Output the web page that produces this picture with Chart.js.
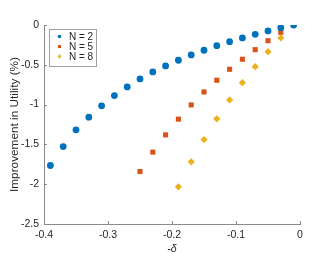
<!DOCTYPE html>
<html lang="en">
<head>
    <meta charset="UTF-8">
    <title>Improvement in Utility</title>
    <script src="https://cdn.jsdelivr.net/npm/chart.js"></script>
    <style>
        body { margin: 0; background: #fff; }
        #wrap { width: 332px; height: 262px; }
    </style>
</head>
<body>
    <div id="wrap"><canvas id="myChart" width="332" height="262"></canvas></div>
    <script>
        // -delta values and utility improvement (%) per number of agents
        const deltaN2 = [-0.39, -0.37, -0.35, -0.33, -0.31, -0.29, -0.27, -0.25, -0.23, -0.21,
                         -0.19, -0.17, -0.15, -0.13, -0.11, -0.09, -0.07, -0.05, -0.03, -0.01];
        const utilN2 = [-1.765, -1.527, -1.317, -1.158, -1.016, -0.887, -0.778, -0.678, -0.590, -0.514,
                        -0.443, -0.376, -0.317, -0.260, -0.210, -0.163, -0.117, -0.075, -0.034, 0];

        const deltaN5 = [-0.25, -0.23, -0.21, -0.19, -0.17, -0.15, -0.13, -0.11, -0.09, -0.07, -0.05, -0.03, -0.01];
        const utilN5 = [-1.841, -1.597, -1.380, -1.183, -1.004, -0.841, -0.694, -0.556, -0.430, -0.310, -0.197, -0.092, 0];

        const deltaN8 = [-0.19, -0.17, -0.15, -0.13, -0.11, -0.09, -0.07, -0.05, -0.03, -0.01];
        const utilN8 = [-2.033, -1.719, -1.439, -1.179, -0.941, -0.724, -0.523, -0.335, -0.163, 0];

        const seriesLabels = ['N = 2', 'N = 5', 'N = 8'];
        const xTicks = [-0.4, -0.3, -0.2, -0.1, 0];
        const yTicks = [-2.5, -2, -1.5, -1, -0.5, 0];

        const FONT = 'Liberation Sans, Arial, sans-serif';
        const TEXT = '#262626';
        const AXIS = '#8a8a8a';

        function toPoints(xs, ys) {
            return xs.map((x, i) => ({ x: x, y: ys[i] }));
        }

        function fmt(v) {
            return String(Math.round(v * 10) / 10);
        }

        // legend drawn inside the plot area, top-left, like the original figure
        const insideLegend = {
            id: 'insideLegend',
            afterDraw(chart) {
                const ctx = chart.ctx;
                const area = chart.chartArea;
                const x0 = area.left + 5, y0 = area.top + 4;
                const w = 47, h = 37;
                ctx.save();
                ctx.fillStyle = '#fff';
                ctx.fillRect(x0, y0, w, h);
                ctx.strokeStyle = '#a0a0a0';
                ctx.lineWidth = 1;
                ctx.strokeRect(x0 + 0.5, y0 + 0.5, w, h);
                ctx.font = '10px ' + FONT;
                ctx.textBaseline = 'middle';
                chart.data.datasets.forEach((ds, i) => {
                    const cy = y0 + 7.5 + i * 10;
                    ctx.fillStyle = ds.backgroundColor;
                    if (ds.pointStyle === 'circle') {
                        ctx.beginPath();
                        ctx.arc(x0 + 10.5, cy, 1.8, 0, Math.PI * 2);
                        ctx.fill();
                    } else if (ds.pointStyle === 'rect') {
                        ctx.fillRect(x0 + 9, cy - 1.5, 3, 3);
                    } else {
                        ctx.beginPath();
                        ctx.moveTo(x0 + 10.5, cy - 2.5);
                        ctx.lineTo(x0 + 12.3, cy);
                        ctx.lineTo(x0 + 10.5, cy + 2.5);
                        ctx.lineTo(x0 + 8.7, cy);
                        ctx.closePath();
                        ctx.fill();
                    }
                    ctx.fillStyle = TEXT;
                    ctx.fillText(ds.label, x0 + 20, cy + 0.5);
                });
                ctx.restore();
            }
        };

        // small inward tick marks on the two axes
        const inwardTicks = {
            id: 'inwardTicks',
            afterDraw(chart) {
                const ctx = chart.ctx;
                const area = chart.chartArea;
                const xs = chart.scales.x, ys = chart.scales.y;
                ctx.save();
                ctx.strokeStyle = AXIS;
                ctx.lineWidth = 1;
                ctx.beginPath();
                xTicks.forEach(v => {
                    const px = Math.round(xs.getPixelForValue(v)) + 0.5;
                    ctx.moveTo(px, area.bottom);
                    ctx.lineTo(px, area.bottom - 3);
                });
                yTicks.forEach(v => {
                    const py = Math.round(ys.getPixelForValue(v)) + 0.5;
                    ctx.moveTo(area.left, py);
                    ctx.lineTo(area.left + 3, py);
                });
                ctx.stroke();
                ctx.restore();
            }
        };

        const data = {
            datasets: [
                {
                    label: seriesLabels[0],
                    data: toPoints(deltaN2, utilN2),
                    backgroundColor: '#0072BD',
                    borderColor: '#0072BD',
                    pointStyle: 'circle',
                    pointRadius: 3.4,
                    borderWidth: 0
                },
                {
                    label: seriesLabels[1],
                    data: toPoints(deltaN5, utilN5),
                    backgroundColor: '#D95319',
                    borderColor: '#D95319',
                    pointStyle: 'rect',
                    pointRadius: 3.6,
                    borderWidth: 0
                },
                {
                    label: seriesLabels[2],
                    data: toPoints(deltaN8, utilN8),
                    backgroundColor: '#EDB120',
                    borderColor: '#EDB120',
                    pointStyle: 'rectRot',
                    pointRadius: 3.6,
                    borderWidth: 0
                }
            ]
        };

        const config = {
            type: 'scatter',
            data: data,
            options: {
                responsive: false,
                animation: false,
                layout: { padding: { top: 25, right: 32, left: 0, bottom: 0 } },
                plugins: {
                    legend: { display: false },
                    tooltip: { enabled: false }
                },
                scales: {
                    x: {
                        type: 'linear',
                        min: -0.4,
                        max: 0,
                        afterBuildTicks: s => { s.ticks = xTicks.map(v => ({ value: v })); },
                        afterFit: s => { s.height = 38; },
                        grid: { display: true, drawOnChartArea: false, drawTicks: false },
                        border: { display: true, color: AXIS, width: 1 },
                        ticks: {
                            color: TEXT,
                            font: { family: FONT, size: 10.5 },
                            padding: 5,
                            maxRotation: 0,
                            callback: v => fmt(v)
                        },
                        title: {
                            display: true,
                            text: '-δ',
                            color: TEXT,
                            font: { family: FONT, size: 10.5, style: 'italic' },
                            padding: { top: 0, bottom: 6.7 }
                        }
                    },
                    y: {
                        type: 'linear',
                        min: -2.5,
                        max: 0,
                        afterBuildTicks: s => { s.ticks = yTicks.map(v => ({ value: v })); },
                        afterFit: s => { s.width = 44; },
                        grid: { display: true, drawOnChartArea: false, drawTicks: false },
                        border: { display: true, color: AXIS, width: 1 },
                        ticks: {
                            color: TEXT,
                            font: { family: FONT, size: 10.5 },
                            padding: 5,
                            callback: v => fmt(v)
                        },
                        title: {
                            display: true,
                            text: 'Improvement in Utility (%)',
                            color: TEXT,
                            font: { family: FONT, size: 11.8 },
                            padding: { top: 7.3, bottom: 0 }
                        }
                    }
                }
            },
            plugins: [inwardTicks, insideLegend]
        };

        const ctx = document.getElementById('myChart').getContext('2d');
        const myChart = new Chart(ctx, config);
    </script>
</body>
</html>
